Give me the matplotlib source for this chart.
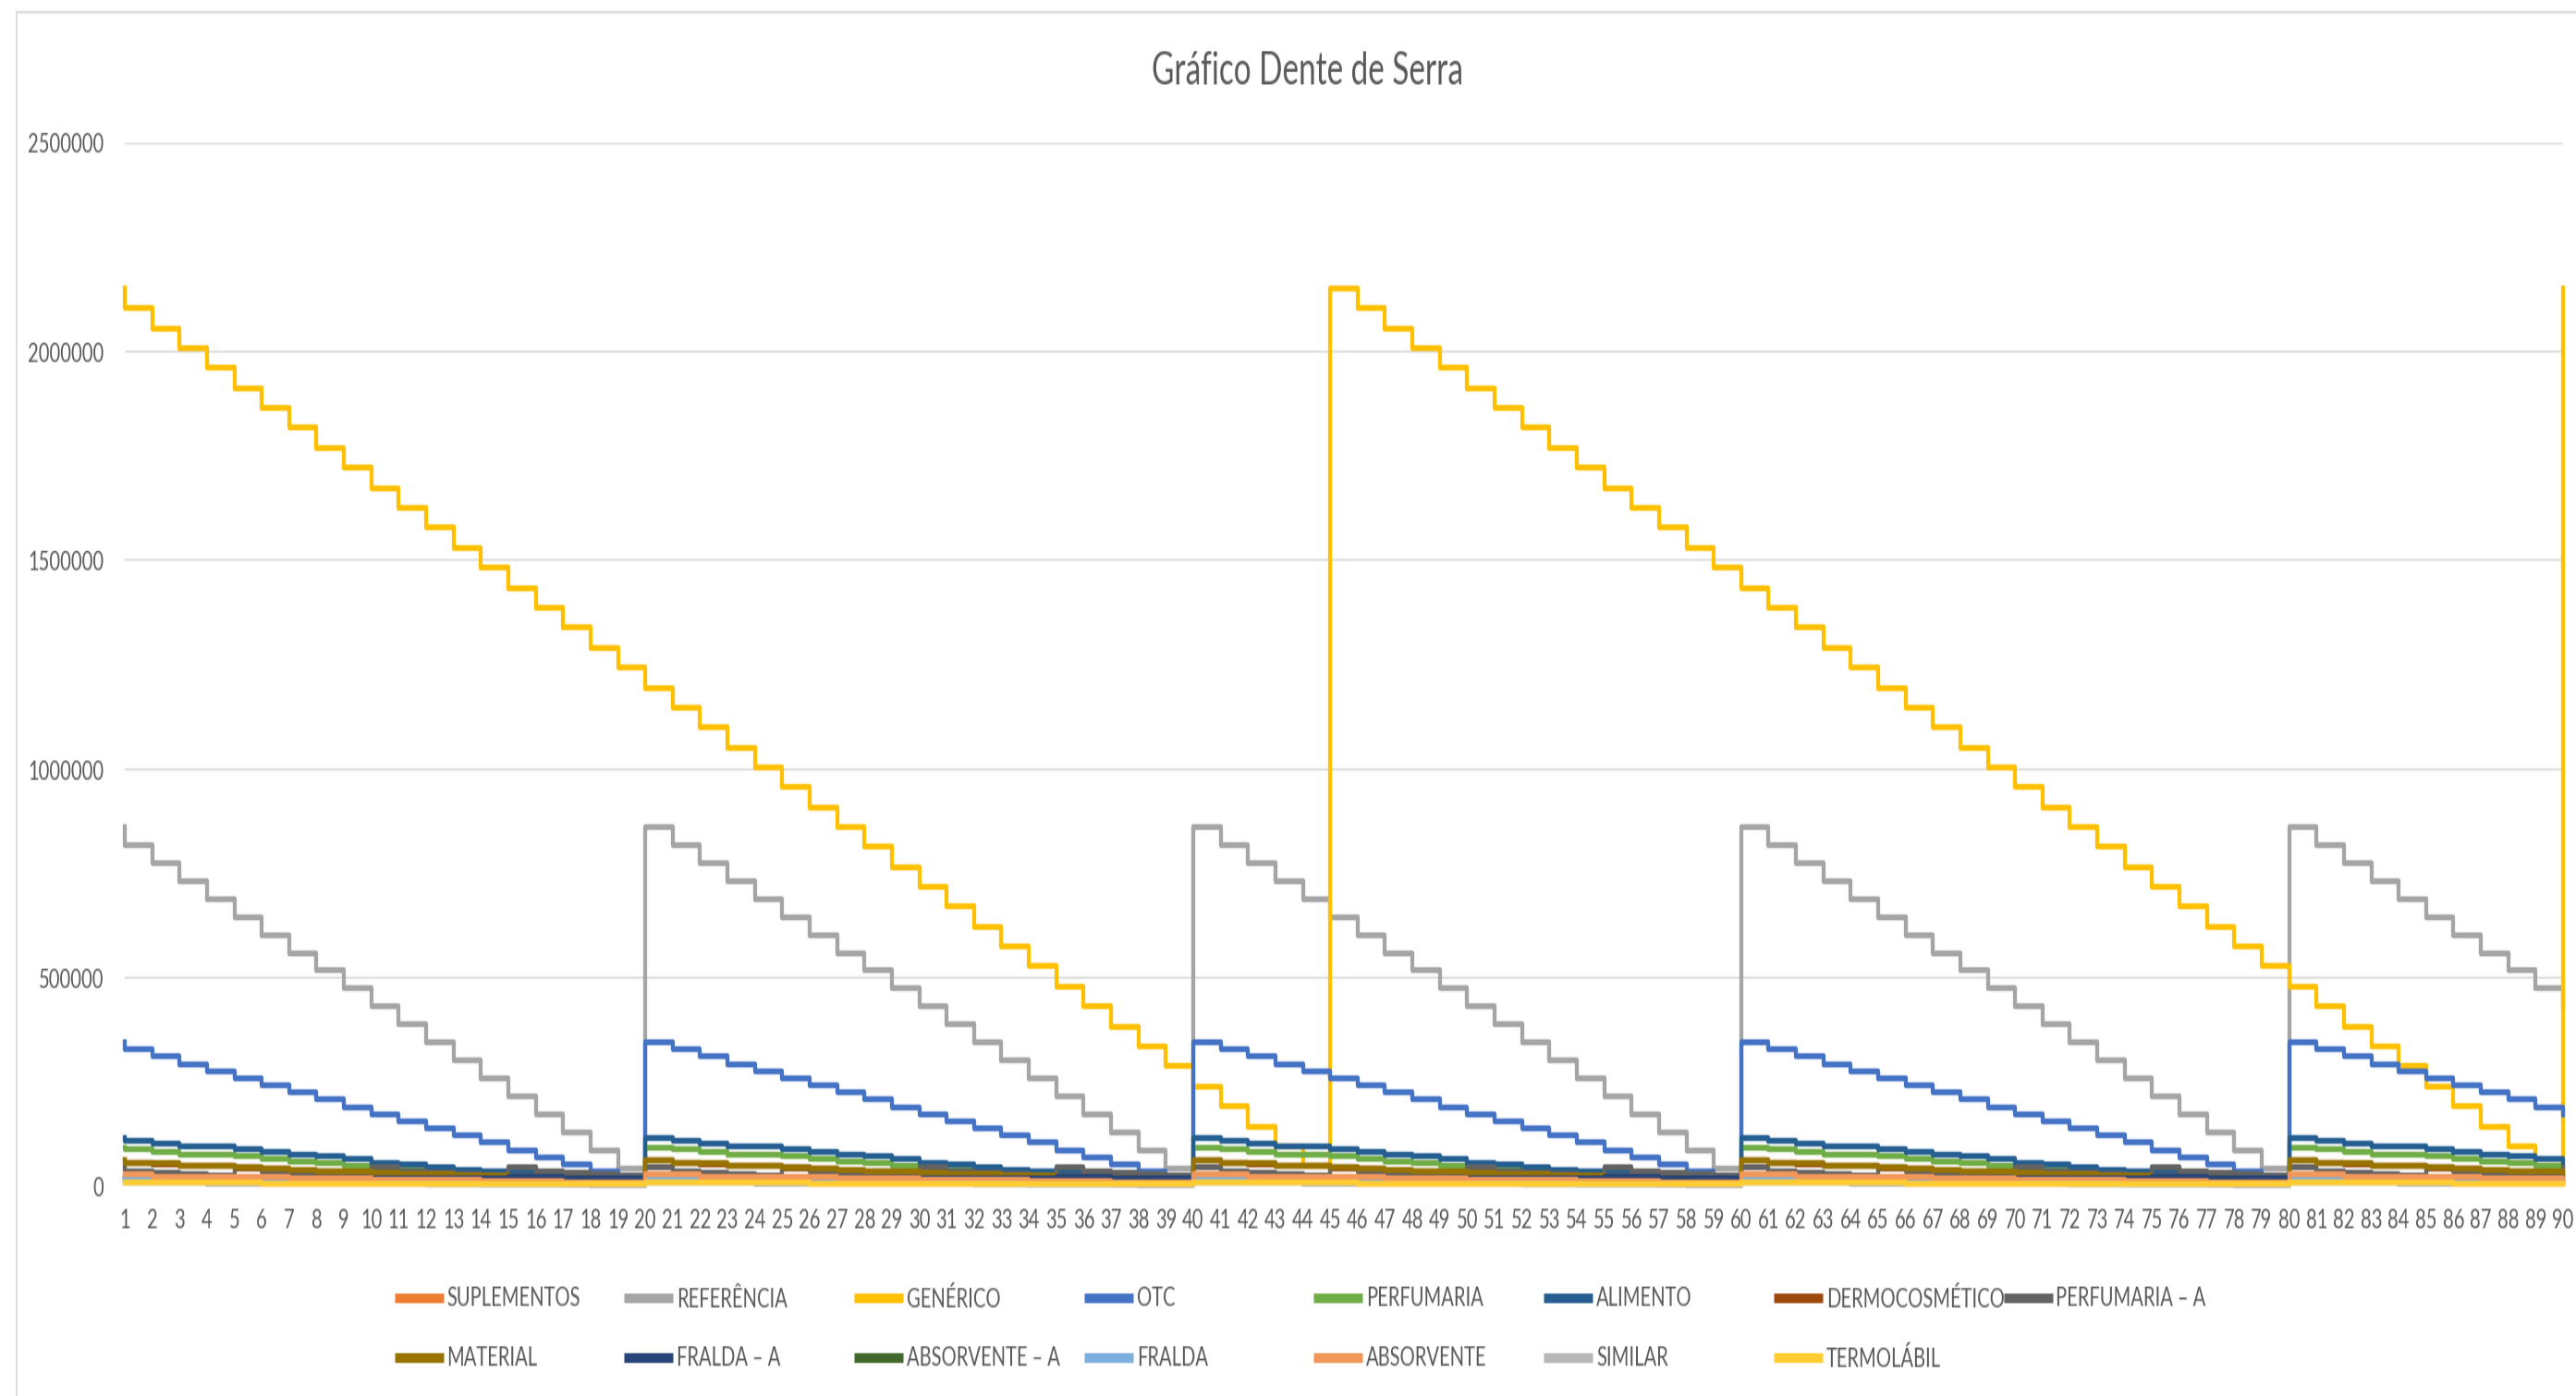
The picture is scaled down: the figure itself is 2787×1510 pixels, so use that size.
import io
import numpy as np
import matplotlib
matplotlib.use("Agg")
import matplotlib.pyplot as plt
from matplotlib.lines import Line2D
from matplotlib.patches import Rectangle

plt.rcParams['font.family'] = ['Lato', 'DejaVu Sans']

# estoque por período: um ciclo de reposição de cada categoria
generico = [2150000, 2102000, 2054000, 2007000, 1959000, 1911000, 1863000, 1816000, 1768000,
            1720000, 1672000, 1624000, 1577000, 1529000, 1481000, 1433000, 1386000, 1338000,
            1290000, 1242000, 1194000, 1147000, 1099000, 1051000, 1003000, 956000, 908000,
            860000, 812000, 764000, 717000, 669000, 621000, 573000, 526000, 478000, 430000,
            382000, 334000, 287000, 239000, 191000, 143000, 96000, 48000]
referencia = [860000, 817000, 774000, 731000, 688000, 645000, 602000, 559000, 516000, 473000,
              430000, 387000, 344000, 301000, 258000, 215000, 172000, 129000, 86000, 43000]
otc = [345000, 328000, 310000, 293000, 276000, 259000, 241000, 224000, 207000, 190000,
       172000, 155000, 138000, 121000, 104000, 86000, 69000, 52000, 35000, 17000]
alimento = [116000, 108000, 101000, 95000, 95000, 88000, 82000, 75000, 71000, 64000,
            55000, 51000, 45000, 40000, 35000, 31000, 27000, 23000, 19000, 15000]
perfumaria = [92000, 87000, 82000, 77000, 77000, 71000, 65000, 60000, 55000, 50000,
              44000, 41000, 37000, 33000, 29000, 26000, 22000, 19000, 16000, 13000]
material = [62000, 57000, 54000, 49000, 49000, 44000, 43000, 38000, 36000, 34000,
            32000, 30000, 28000, 26000, 24000, 22000, 20000, 18000, 16000, 14000]
dermocosmetico = [61000, 56000, 53000, 48000, 48000, 43000, 42000, 37000, 35000, 33000,
                  31000, 29000, 27000, 25000, 23000, 21000, 19000, 17000, 15000, 13000]
perfumaria_a = [46000, 35000, 31000, 28000, 26000]
fralda_a = [18000, 18000, 18000, 19000, 19000, 19000, 19000, 19000, 19000, 19000,
            20000, 20000, 20000, 20000, 20000, 21000, 21000, 20000, 20000, 19000]
absorvente = [29000, 28000, 22000, 22000, 22000, 21000, 21000, 20000, 19000, 18000,
              17000, 16000, 15000, 14000, 13000, 12000, 11000, 10000, 9000, 8000]
suplementos = [26000, 25000, 19000, 19000, 19000, 18000, 18000, 17000, 16000, 15000,
               14000, 13000, 12000, 11000, 10000, 9000, 8000, 7000, 6000, 5000]
fralda = [17000, 17000, 13000, 13000, 12000, 12000, 11000, 11000, 10000, 10000,
          9000, 9000, 8000, 8000, 7000, 7000, 6000, 6000, 5000, 5000]
absorvente_a = [16000, 16000, 12000, 12000, 11000, 11000, 10000, 10000, 9000, 9000,
                8000, 8000, 7000, 7000, 6000, 6000, 5000, 5000, 4000, 4000]
termolabil = [9000, 9000, 8000, 8000, 7500, 7500, 7000, 7000, 6500, 6500,
              6000, 6000, 5500, 5500, 5000, 5000, 4500, 4500, 4000, 4000]
similar = [8000, 8000, 7500, 7500, 7000, 7000, 6500, 6500, 6000, 6000,
           5500, 5500, 5000, 5000, 4500, 4500, 4000, 4000, 3500, 3500]

periodos = list(range(1, 91))

nomes = ['SUPLEMENTOS', 'REFERÊNCIA', 'GENÉRICO', 'OTC', 'PERFUMARIA', 'ALIMENTO',
         'DERMOCOSMÉTICO', 'PERFUMARIA – A', 'MATERIAL', 'FRALDA – A', 'ABSORVENTE – A',
         'FRALDA', 'ABSORVENTE', 'SIMILAR', 'TERMOLÁBIL']
ciclos = [suplementos, referencia, generico, otc, perfumaria, alimento, dermocosmetico,
          perfumaria_a, material, fralda_a, absorvente_a, fralda, absorvente, similar, termolabil]
cores = ['#ED7D31', '#A5A5A5', '#FFC000', '#4472C4', '#70AD47', '#255E91', '#9E480E',
         '#636363', '#997300', '#264478', '#43682B', '#7CAFDD', '#F1975A', '#B7B7B7', '#FFCD33']


def serie(ciclo, n=91):
    # o ciclo se repete a cada reposição
    reps = n // len(ciclo) + 1
    return (ciclo * reps)[:n]


W, H = 2787, 1510
ESTICA = 1.5  # desenha achatado e depois estica na vertical

fig = plt.figure(figsize=(W / 100, H / ESTICA / 100), dpi=100)
fig.patch.set_facecolor('white')
ax = fig.add_axes([135 / W, 1 - 1283 / H, (2773 - 135) / W, (1283 - 155) / H])

xs = [1] + periodos
for nome, ciclo, cor in zip(nomes, ciclos, cores):
    ax.step(xs, serie(ciclo), where='post', color=cor, lw=3.1, clip_on=False)

ax.set_xlim(1, 90)
ax.set_ylim(0, 2500000)
ax.set_xticks(periodos)
ax.set_xticklabels([str(p) for p in periodos])
yt = [0, 500000, 1000000, 1500000, 2000000, 2500000]
ax.set_yticks(yt)
ax.set_yticklabels([str(v) for v in yt])
ax.yaxis.grid(True, color='#D9D9D9', lw=1.0)
ax.set_axisbelow(True)
for s in ax.spines.values():
    s.set_visible(False)
ax.tick_params(axis='both', length=0, labelsize=14.5, colors='#595959')
ax.tick_params(axis='x', pad=11)
ax.tick_params(axis='y', pad=16.5)

fig.text(1415 / W, 1 - 78 / H, 'Gráfico Dente de Serra', ha='center', va='center',
         fontsize=24, color='#595959')

# legenda em duas linhas, colunas de largura fixa
for i, (nome, cor) in enumerate(zip(nomes, cores)):
    lin, col = divmod(i, 8)
    x0 = 426.6 + col * 248.7
    y0 = 1404 + lin * 64
    fig.add_artist(Line2D([x0 / W, (x0 + 53) / W], [1 - y0 / H, 1 - y0 / H],
                          transform=fig.transFigure, color=cor, lw=5, solid_capstyle='butt'))
    fig.text((x0 + 57) / W, 1 - y0 / H, nome, ha='left', va='center',
             fontsize=14.5, color='#595959')

fig.add_artist(Rectangle((18 / W, -0.1), 2, 1.1 - 14 / H, transform=fig.transFigure,
                         fill=False, ec='#D9D9D9', lw=1.2))

buf = io.BytesIO()
fig.savefig(buf, format='png', dpi=100, facecolor='white')
buf.seek(0)
img = plt.imread(buf)

# esticar as linhas da imagem até a altura final
h = img.shape[0]
pos = np.linspace(0, h - 1, H)
a = np.floor(pos).astype(int)
b = np.minimum(a + 1, h - 1)
t = (pos - a)[:, None, None]
out = img[a] * (1 - t) + img[b] * t
plt.imsave('out.png', np.clip(out[:, :, :3], 0, 1))
